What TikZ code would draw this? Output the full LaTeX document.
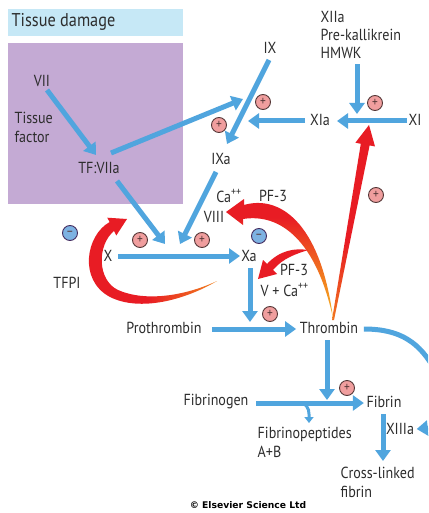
\documentclass[tikz,border=0pt]{standalone}
\usepackage{fontspec}
\setmainfont{PT Sans}[FakeStretch=0.88]
\newfontfamily\credfont{DejaVu Sans}
\usetikzlibrary{arrows.meta,calc}
\definecolor{ablue}{RGB}{80,165,222}
\definecolor{txt}{RGB}{45,45,45}
\definecolor{purp}{RGB}{196,170,212}
\definecolor{lblue}{RGB}{198,232,246}
\definecolor{pinkc}{RGB}{240,158,158}
\definecolor{minc}{RGB}{125,178,226}
\definecolor{rimc}{RGB}{85,55,55}
\definecolor{ared}{RGB}{232,28,36}
\definecolor{ayel}{RGB}{250,215,40}
\definecolor{aora}{RGB}{242,130,30}
\pgfdeclareverticalshading{redyel}{100bp}{color(0bp)=(ayel); color(22bp)=(aora); color(45bp)=(ared); color(100bp)=(ared)}
\pgfdeclareverticalshading{redyelb}{100bp}{color(0bp)=(ayel); color(14bp)=(ayel); color(40bp)=(aora); color(66bp)=(ared); color(100bp)=(ared)}
\pgfdeclarehorizontalshading{redyelh}{100bp}{color(0bp)=(ared); color(50bp)=(ared); color(75bp)=(aora); color(94bp)=(ayel); color(100bp)=(ayel)}
\tikzset{
  lbl/.style={text=txt, font=\fontsize{16}{19}\selectfont, inner sep=1.5pt},
  barrow/.style={draw=ablue, line width=5pt, -{Triangle[length=11pt,width=15pt]}},
  bline/.style={draw=ablue, line width=5pt},
  pl/.style={circle, draw=rimc, line width=0.9pt, fill=pinkc, minimum size=15pt, inner sep=0pt, text=rimc, font=\fontsize{13}{13}\selectfont},
  mi/.style={circle, draw=rimc!80!blue, line width=0.9pt, fill=minc, minimum size=15pt, inner sep=0pt, text=rimc, font=\fontsize{13}{13}\selectfont},
}
\begin{document}
\begin{tikzpicture}[x=1pt,y=-1pt]
\useasboundingbox (0,0) rectangle (428,513);
\fill[white] (0,0) rectangle (428,513);
\fill[lblue] (8,9) rectangle (183,36);
\fill[purp] (8,43) rectangle (183,204);

% text nodes
\node[lbl, anchor=west, font=\fontsize{18.5}{20}\selectfont] (td) at (10,22) {Tissue damage};
\node[lbl] (VII) at (42,81) {VII};
\node[lbl, anchor=west, align=left] (tf) at (13,127) {Tissue\\factor};
\node[lbl] (TF) at (99,168) {TF:VIIa};
\node[lbl] (IX) at (270,48) {IX};
\node[lbl, anchor=west, align=left, font=\fontsize{16}{18}\selectfont] (XIIa) at (319,35) {XIIa\\Pre-kallikrein\\HMWK};
\node[lbl] (XIa) at (320,120) {XIa};
\node[lbl] (XI) at (415,120) {XI};
\node[lbl] (IXa) at (221,159) {IXa};
\node[lbl] (Ca1) at (229,196) {Ca\textsuperscript{++}};
\node[lbl] (PF1) at (273,196) {PF-3};
\node[lbl] (VIII) at (214,217) {VIII};
\node[lbl] (X) at (108,256) {X};
\node[lbl] (Xa) at (249,256) {Xa};
\node[lbl] (PF2) at (294,270) {PF-3};
\node[lbl, anchor=west] (V) at (259,290) {V + Ca\textsuperscript{++}};
\node[lbl] (TFPI) at (67,283) {TFPI};
\node[lbl] (Pro) at (164,328) {Prothrombin};
\node[lbl] (Thr) at (329,328) {Thrombin};
\node[lbl] (Fgn) at (216,402) {Fibrinogen};
\node[lbl] (Fib) at (384,402) {Fibrin};
\node[lbl, anchor=west, align=left] (FP) at (256,442) {Fibrinopeptides\\A+B};
\node[lbl] (XIIIa) at (400,429) {XIIIa};
\node[lbl, anchor=west, align=left] (CL) at (339,482) {Cross-linked\\fibrin};
\node[text=black, font=\credfont\bfseries\fontsize{9.2}{10}\selectfont, inner sep=0pt] (cr) at (248,505.5) {© Elsevier Science Ltd};

% junction coordinates
\coordinate (j9) at (243,99);
\coordinate (j11) at (357,114);
\coordinate (jxa) at (165,244);
\coordinate (jxb) at (180,244);
\coordinate (jth) at (250,322);
\coordinate (jfb) at (327,400);
\coordinate (jfp) at (302,404);
\coordinate (edgeR) at (428,428);

% blue arrows
\draw[barrow] ($(VII)+(5,9)$) -- ($(TF)+(-3,-13)$);
\draw[barrow] ($(TF)+(12,-15)$) -- (j9);
\draw[barrow] ($(IX)+(-1,12)$) -- ($(IXa)+(6,-15)$);
\draw[barrow] ($(XIa)+(-15,1)$) -- ($(IXa)+(27,-38)$);
\draw[barrow] ($(XI)+(-8,1)$) -- ($(XIa)+(17,1)$);
\draw[barrow] ($(XIIa.south west)+(38,4)$) -- (j11);
\draw[barrow] ($(TF)+(18,13)$) -- (jxa);
\draw[barrow] ($(IXa)+(-5,13)$) -- (jxb);
\draw[barrow] ($(X)+(10,0)$) -- ($(Xa)+(-9,0)$);
\draw[barrow] ($(Xa)+(1,12)$) -- (jth);
\draw[barrow] ($(Pro.east)+(9,1)$) -- ($(Thr.west)+(-2,1)$);
\draw[barrow] ($(Thr)+(-2,12)$) -- (jfb);
\draw[barrow] ($(Fgn.east)+(6,1)$) -- ($(Fib.west)+(-1,1)$);
\draw[draw=ablue, line width=3pt, -{Triangle[length=6pt,width=9pt]}] (jfp) to[out=0,in=90] ($(jfp)+(7,19)$);
\draw[barrow] ($(Fib)+(-1,12)$) -- ($(Fib)+(-1,59)$);
\draw[barrow] (edgeR) -- ($(XIIIa.east)+(1,0)$);
\begin{scope}
\clip (0,0) rectangle (428,513);
\draw[bline] ($(Thr.east)+(4,1)$) .. controls (400,329) and (420,342) .. (436,372);
\end{scope}

% red arrows
\shade[shading=redyel] (332,320) -- (360.8,143.8) -- (355.4,142.7) -- (369,125) -- (375,146.5) -- (369.6,145.4) -- (334,320) -- cycle;
\shade[shading=redyelb] (226,212) -- (244,199) -- (244,205) .. controls (278,195) and (320,220) .. (333,318) .. controls (316,240) and (280,213) .. (243,219) -- (243,225) -- cycle;
\fill[ared] (258,279) -- (263,260) -- (267,264) .. controls (280,250) and (295,248) .. (308,250) .. controls (296,254) and (283,258) .. (273,270) -- (277,274) -- cycle;
\shade[shading=redyelh] (127,219) -- (107.3,217.7) -- (109.6,222.1) .. controls (86,235) and (78,280) .. (110,297) .. controls (140,312) and (185,300) .. (217,281) .. controls (185,296) and (145,302) .. (118,290) .. controls (97,280) and (97,245) .. (114,231) -- (116.3,235.5) -- cycle;

% signs
\node[pl] (p1) at (263,102) {+};
\node[pl] (p2) at (219,125) {+};
\node[pl] (p3) at (375,103) {+};
\node[pl] (p4) at (376,195) {+};
\node[pl] (p5) at (140,240) {+};
\node[pl] (p6) at (202,240) {+};
\node[pl] (p7) at (270,314) {+};
\node[pl] (p8) at (347,388) {+};
\node[mi] (m1) at (70,233) {–};
\node[mi] (m2) at (259,236) {–};
\end{tikzpicture}
\end{document}
